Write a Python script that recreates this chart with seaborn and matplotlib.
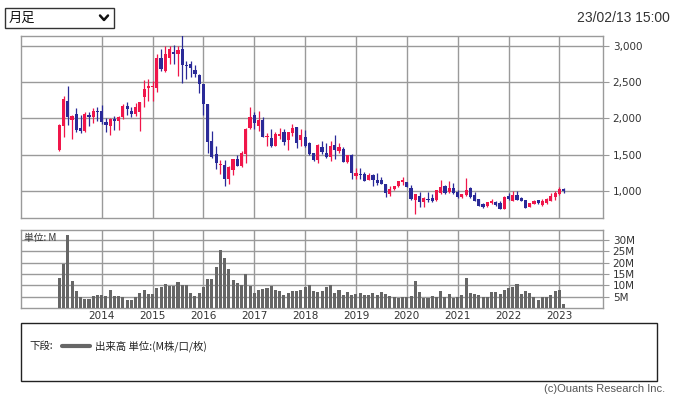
#monthly candlestick + volume
import numpy as np
import pandas as pd
import seaborn as sns
import matplotlib.pyplot as plt
from matplotlib.patches import Rectangle
from matplotlib.lines import Line2D

# Mar 2013 .. Feb 2023, one row per month
months = pd.date_range("2013-03-01", "2023-02-01", freq="MS")

opens = [1560, 1890, 2245, 1980, 2055, 1862, 1825, 2046, 2014, 2096,
         2094, 1945, 1895, 1993, 1963, 2014, 2167, 2096, 2055, 2083, 2294, 2420,
         2430, 2420, 2826, 2650, 2835, 2910, 2885, 2950, 2730, 2743, 2660, 2590,
         2468, 2192, 1681, 1505, 1356, 1358, 1165, 1294, 1440, 1349, 1509, 1867,
         2040, 1890, 1972, 1748, 1735, 1620, 1752, 1805, 1700, 1796, 1876, 1698,
         1741, 1665, 1516, 1422, 1603, 1527, 1463, 1633, 1546, 1578, 1399, 1495,
         1211, 1239, 1234, 1156, 1216, 1147, 1147, 1092, 963, 1032, 1064, 1119,
         1124, 1046, 881, 927, 849, 885, 908, 872, 973, 1064, 986, 1041,
         986, 918, 940, 1040, 945, 885, 821, 794, 840, 849, 840, 757,
         936, 867, 945, 908, 876, 784, 821, 876, 807, 830, 867, 913,
         959, 1023]
highs = [1925, 2312, 2440, 2045, 2138, 2040, 2082, 2088, 2138, 2150,
         2180, 2000, 1998, 2028, 2030, 2192, 2220, 2154, 2208, 2220, 2530, 2536,
         2520, 2880, 2950, 3000, 3000, 3015, 2995, 3155, 2794, 2794, 2730, 2610,
         2472, 2192, 1822, 1624, 1427, 1427, 1349, 1440, 1500, 1546, 1867, 2161,
         2085, 2094, 2018, 1800, 1848, 1810, 1872, 1848, 1810, 1915, 1876, 1848,
         1838, 1668, 1520, 1650, 1683, 1662, 1690, 1771, 1656, 1610, 1500, 1510,
         1312, 1312, 1266, 1248, 1239, 1248, 1193, 1092, 1064, 1073, 1138, 1193,
         1130, 1078, 963, 986, 915, 986, 963, 1018, 1147, 1078, 1138, 1110,
         1009, 965, 1179, 1050, 991, 890, 830, 853, 890, 867, 862, 931,
         977, 1000, 1000, 922, 880, 840, 870, 880, 885, 910, 968, 1000,
         1055, 1037]
lows = [1548, 1739, 1905, 1716, 1808, 1796, 1814, 1895, 1938, 1960,
        1920, 1812, 1773, 1842, 1837, 1984, 2043, 2023, 2032, 1825, 2156, 2238,
        2232, 2360, 2650, 2638, 2750, 2745, 2580, 2484, 2541, 2573, 2568, 2346,
        2043, 1523, 1450, 1300, 1234, 1069, 1096, 1225, 1344, 1335, 1385, 1849,
        1853, 1830, 1739, 1620, 1612, 1618, 1716, 1628, 1566, 1755, 1585, 1617,
        1610, 1495, 1411, 1383, 1509, 1450, 1413, 1440, 1520, 1395, 1380, 1170,
        1165, 1160, 1142, 1147, 1069, 1078, 1092, 917, 927, 1009, 1055, 1078,
        1050, 881, 680, 780, 780, 849, 849, 862, 963, 963, 975, 965,
        908, 905, 935, 900, 860, 790, 765, 775, 817, 794, 757, 757,
        880, 862, 870, 860, 760, 780, 815, 825, 800, 815, 865, 880,
        945, 968]
closes = [1905, 2266, 2018, 2028, 1835, 1825, 2055, 2018, 2096, 2088,
          1950, 1908, 1984, 1968, 2016, 2167, 2128, 2064, 2151, 2220, 2400, 2438,
          2445, 2835, 2680, 2880, 2950, 2885, 2935, 2734, 2720, 2692, 2605, 2472,
          2197, 1675, 1468, 1386, 1362, 1160, 1326, 1440, 1349, 1523, 1853, 2018,
          1935, 1972, 1745, 1757, 1620, 1789, 1791, 1674, 1805, 1864, 1656, 1766,
          1620, 1512, 1425, 1628, 1536, 1468, 1617, 1564, 1610, 1404, 1491, 1243,
          1248, 1220, 1142, 1216, 1147, 1110, 1092, 973, 1032, 1064, 1138, 1151,
          1055, 895, 963, 849, 908, 880, 862, 1009, 1055, 973, 1037, 973,
          918, 954, 1018, 918, 867, 798, 775, 844, 867, 807, 757, 917,
          890, 945, 876, 867, 771, 835, 862, 830, 867, 894, 931, 977,
          1028, 1000]
volume = [13.4, 19.4, 32.2, 12.0, 7.3, 4.7, 4.1, 4.1, 5.1, 5.6,
          5.8, 5.4, 8.0, 5.1, 5.4, 4.8, 3.4, 3.7, 4.7, 6.7, 8.0, 6.3,
          6.3, 8.6, 9.1, 10.7, 9.5, 9.5, 11.5, 9.9, 10.2, 6.7, 5.4, 6.7,
          9.4, 12.9, 12.9, 18.1, 25.6, 22.1, 17.3, 12.4, 11.1, 9.9, 15.1, 9.8,
          6.7, 8.0, 8.5, 8.8, 9.8, 8.0, 7.5, 5.8, 6.7, 7.3, 7.3, 8.0,
          9.4, 9.9, 7.6, 7.0, 7.6, 9.4, 10.0, 6.6, 8.0, 5.5, 7.0, 5.6,
          6.0, 6.4, 5.9, 5.5, 6.4, 5.6, 7.0, 6.0, 5.2, 5.0, 4.5, 5.0,
          4.8, 5.3, 11.7, 7.0, 4.6, 4.6, 5.4, 5.0, 7.6, 5.0, 6.0, 4.5,
          5.0, 5.5, 13.4, 6.5, 6.0, 5.5, 5.0, 5.0, 7.0, 7.0, 6.0, 8.0,
          9.0, 9.4, 10.6, 6.0, 7.5, 6.4, 5.0, 3.6, 5.0, 5.0, 5.5, 7.5,
          8.0, 1.9]

price_ticks = [1000, 1500, 2000, 2500, 3000]
vol_ticks = [5, 10, 15, 20, 25, 30]

df = pd.DataFrame({"month": months, "open": opens, "high": highs,
                   "low": lows, "close": closes, "vol": volume})
df["x"] = np.arange(len(df))
jan = df.loc[df["month"].dt.month == 1]

RED = "#f0164a"
BLUE = "#2a2a98"
GRID = "#9a9a9a"
JP = ["Noto Sans CJK JP", "DejaVu Sans"]

sns.set_style("white")
plt.rcParams["font.family"] = ["DejaVu Sans", "Noto Sans CJK JP"]

W, H = 675, 396
fig = plt.figure(figsize=(W / 100, H / 100), dpi=100)

def fx(px):
    return px / W

def fy(py):
    return 1 - py / H

x0, x1 = 21, 603
ax = fig.add_axes([fx(x0), fy(218), fx(x1) - fx(x0), fy(36) - fy(218)])
axv = fig.add_axes([fx(x0), fy(308), fx(x1) - fx(x0), fy(230) - fy(308)])

# candles
up = df["close"] >= df["open"]
cols = np.where(up, RED, BLUE)
ax.vlines(df["x"], df["low"], df["high"], colors=cols, lw=0.9, zorder=3)
body_lo = np.minimum(df["open"], df["close"])
body_h = np.maximum((df["close"] - df["open"]).abs(), 10)
ax.bar(df["x"], body_h, bottom=body_lo, width=0.75, color=cols, linewidth=0, zorder=4)

# volume
sns.barplot(data=df, x="x", y="vol", native_scale=True, color="#666666",
            saturation=1, width=0.72, errorbar=None, ax=axv,
            linewidth=0, edgecolor="none", zorder=3)

xlim = (-9.05, 128.3)
for a in (ax, axv):
    a.set_xlim(*xlim)
    a.set_xticks(jan["x"])
    a.grid(True, color=GRID, lw=1)
    a.set_axisbelow(True)
    for s in a.spines.values():
        s.set_color(GRID)
        s.set_linewidth(1)
    a.yaxis.tick_right()
    a.tick_params(axis="y", length=4, color=GRID, labelsize=7.5,
                  labelcolor="#333333", pad=3)
    a.set_xlabel("")
    a.set_ylabel("")

ax.set_ylim(628, 3133)
ax.set_yticks(price_ticks)
ax.set_yticklabels([f"{v:,}" for v in price_ticks])
ax.tick_params(axis="x", length=0, labelbottom=False)

axv.set_ylim(0, 34.3)
axv.set_yticks(vol_ticks)
axv.set_yticklabels([f"{v}M" for v in vol_ticks])
axv.set_xticklabels(jan["month"].dt.year.astype(str))
axv.tick_params(axis="x", length=0, labelsize=7.5, labelcolor="#333333", pad=2)
axv.text(0.006, 0.9, "単位: M", transform=axv.transAxes, fontsize=7,
         family=JP, color="#333333", va="center", ha="left")

# header: period selector and timestamp
fig.add_artist(Rectangle((fx(5), fy(28)), fx(114) - fx(5), fy(8) - fy(28),
                         transform=fig.transFigure, fill=False,
                         edgecolor="#333333", lw=1))
fig.text(fx(9), fy(18), "月足", fontsize=9.5, family=JP, va="center", color="#111111")
fig.add_artist(Line2D([fx(100), fx(104), fx(108)], [fy(15.5), fy(20), fy(15.5)],
                      transform=fig.transFigure, color="#111111", lw=1.8))
fig.text(fx(670), fy(18), "23/02/13 15:00", fontsize=10, ha="right", va="center",
         family=["Liberation Sans"], color="#333333")

# legend box
fig.add_artist(Rectangle((fx(21), fy(381)), fx(657) - fx(21), fy(323) - fy(381),
                         transform=fig.transFigure, fill=False,
                         edgecolor="#222222", lw=1))
fig.text(fx(29), fy(346), "下段:", fontsize=7.5, family=JP, va="center", color="#222222")
fig.add_artist(Line2D([fx(62), fx(90)], [fy(346), fy(346)],
                      transform=fig.transFigure, color="#666666", lw=3))
fig.text(fx(95), fy(346), "出来高 単位:(M株/口/枚)", fontsize=7.5, family=JP,
         va="center", color="#222222")
fig.text(fx(665), fy(388.5), "(c)Ouants Research Inc.", fontsize=8, ha="right",
         va="center", family=["Liberation Sans"], color="#555555")

fig.savefig("out.png", dpi=100)
